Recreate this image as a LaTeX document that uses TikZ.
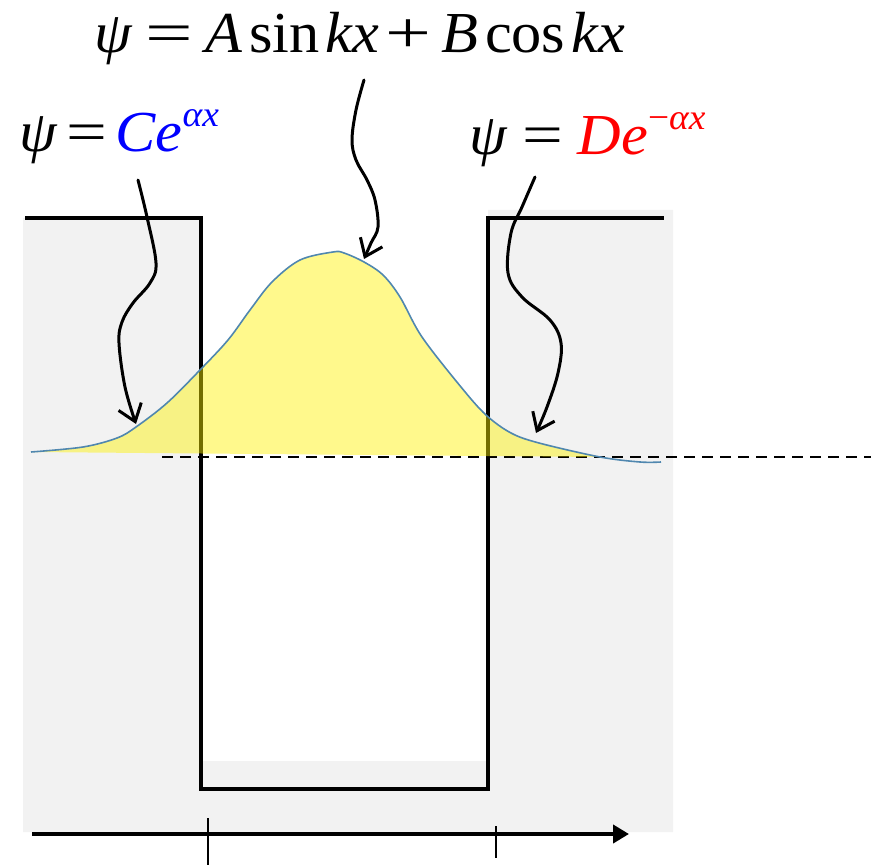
\documentclass[tikz,border=0pt]{standalone}
\usepackage{fontspec}
\setmainfont[FakeStretch=1.04]{Liberation Serif}
\usetikzlibrary{arrows.meta}
\definecolor{bg}{RGB}{242,242,242}
\definecolor{wave}{RGB}{80,135,175}
\newcommand\mysup[1]{\raisebox{12.5pt}{\fontsize{18}{18}\selectfont\itshape #1}}
\newcommand\myeq{\scalebox{1.4}[1]{=}}
\newcommand\myplus{\scalebox{1.35}[1]{+}}
\newcommand\smeq{\scalebox{1.2}[1]{=}}
\begin{document}
\begin{tikzpicture}[x=0.5pt,y=-0.5pt,
  well/.style={line width=2.2pt, line join=miter},
  lbl/.style={inner sep=0pt, font=\fontsize{29}{31}\selectfont, anchor=base west},
  pointer/.style={line width=1.5pt, line cap=round, -{Straight Barb[length=8pt,width=12pt,line width=1.5pt]}},
  tick/.style={line width=0.75pt}]
\useasboundingbox (0,0) rectangle (871,865);
% background
\fill[bg] (23,218) -- (200,218) -- (200,761) -- (488,761) -- (488,210) -- (673,210) -- (673,832) -- (23,832) -- cycle;
% well
\draw[well] (25,218) -- (201,218) -- (201,789) -- (488,789) -- (488,218) -- (664,218);
% dashed level
\draw[line width=1pt, dash pattern=on 5.5pt off 3.5pt] (162,457) -- (871,457);
% wavefunction fill
\fill[yellow, fill opacity=0.45] plot[smooth, tension=0.55] coordinates {(31,452) (83,447) (117,438) (136,427) (167,403) (200,370) (228,340) (250,310) (272,282) (300,260) (333,252) (344,253) (364,262) (383,275) (400,297) (422,337) (461,387) (486,415) (511,433) (539,443) (600,457)} -- (31,452) -- cycle;
\draw[wave, line width=0.8pt] plot[smooth, tension=0.55] coordinates {(31,452) (83,447) (117,438) (136,427) (167,403) (200,370) (228,340) (250,310) (272,282) (300,260) (333,252) (344,253) (364,262) (383,275) (400,297) (422,337) (461,387) (486,415) (511,433) (539,443) (600,457) (640,462) (661,462)};
% labels
\node[lbl] (top) at (94,53) {\itshape ψ\hspace{7pt}\upshape\myeq\hspace{6pt}\itshape A\hspace{3.5pt}\upshape sin\hspace{3pt}\itshape kx\hspace{3pt}\upshape\myplus\hspace{5pt}\itshape B\hspace{3.5pt}\upshape cos\hspace{3pt}\itshape kx};
\node[lbl] (left) at (19,152) {\itshape ψ\hspace{5pt}\upshape\smeq\hspace{4pt}\textcolor{blue}{\itshape Ce\mysup{αx}}};
\node[lbl] (right) at (469,155) {\itshape ψ\hspace{8pt}\upshape\smeq\hspace{7pt}\textcolor{red}{\itshape De\mysup{\upshape−\itshape αx}}};
% pointer ends
\coordinate (ls) at (138,180);
\coordinate (lt) at (136,424);
\coordinate (ms) at (364,80);
\coordinate (mt) at (364,259);
\coordinate (rs) at (535,177);
\coordinate (rt) at (536,433);
\draw[pointer] plot[smooth, tension=0.6] coordinates {(ls) (147,217) (156,263) (150,283) (133,303) (122,322) (119,343) (125,387) (lt)};
\draw[pointer] plot[smooth, tension=0.6] coordinates {(ms) (356,110) (352,140) (356,160) (367,180) (375,200) (378,227) (371,243) (mt)};
\draw[pointer] plot[smooth, tension=0.6] coordinates {(rs) (522,207) (511,233) (508,273) (522,297) (550,320) (561,343) (558,373) (547,407) (rt)};
% axis
\coordinate (a0) at (32,834);
\coordinate (a1) at (629,834);
\draw[line width=2pt, -{Triangle[length=8pt,width=9pt]}] (a0) -- (a1);
\draw[tick] (208,818) -- (208,865);
\draw[tick] (496,826) -- (496,858);
\end{tikzpicture}
\end{document}
